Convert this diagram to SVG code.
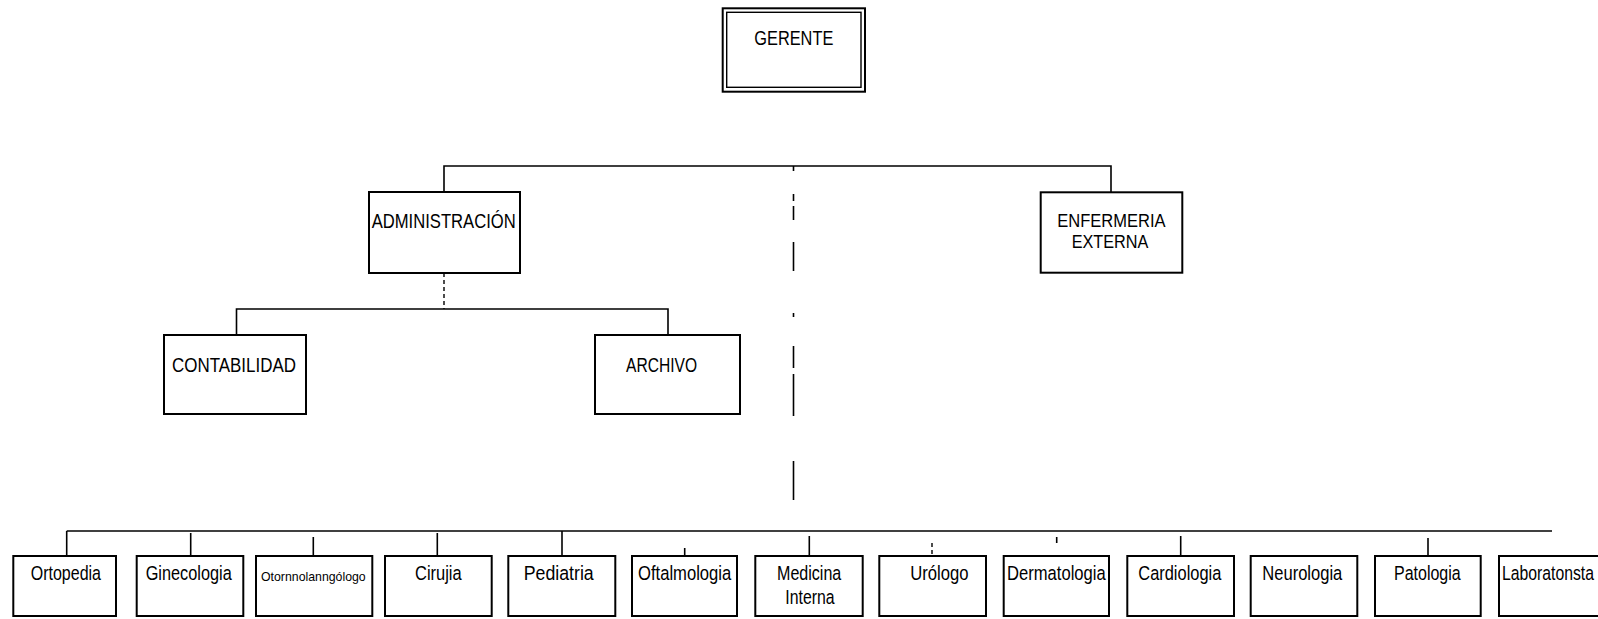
<svg xmlns="http://www.w3.org/2000/svg" width="1598" height="619" viewBox="0 0 1598 619">
<style>
.box{fill:#fff;stroke:#000;stroke-width:2}
.ln{fill:none;stroke:#000;stroke-width:1.6}
.dash{fill:none;stroke:#000;stroke-width:1.4;stroke-dasharray:4 3}
text{font-family:"Liberation Sans Narrow","Liberation Sans",Arial,sans-serif;fill:#000}
.t20{font-size:21px}
.t19{font-size:20.5px}
.t18{font-size:19px}
.t13{font-size:13.5px}
</style>
<rect width="1598" height="619" fill="#fff"/>
<g id="connectors">
<polyline class="ln" points="444,192 444,166 1111,166 1111,192"/>
<line class="dash" x1="444" y1="273" x2="444" y2="309"/>
<polyline class="ln" points="236.5,335 236.5,309 668,309 668,335"/>
<g class="ln">
<line x1="793.5" y1="166" x2="793.5" y2="171"/>
<line x1="793.5" y1="194" x2="793.5" y2="201"/>
<line x1="793.5" y1="206" x2="793.5" y2="220"/>
<line x1="793.5" y1="242" x2="793.5" y2="271"/>
<line x1="793.5" y1="313" x2="793.5" y2="317"/>
<line x1="793.5" y1="346" x2="793.5" y2="368"/>
<line x1="793.5" y1="374" x2="793.5" y2="416"/>
<line x1="793.5" y1="461" x2="793.5" y2="500"/>
</g>
<line class="ln" x1="66.7" y1="531" x2="1552" y2="531"/>
<g class="ln">
<line x1="66.7" y1="531" x2="66.7" y2="556"/>
<line x1="190.7" y1="533" x2="190.7" y2="556"/>
<line x1="313.3" y1="537" x2="313.3" y2="556"/>
<line x1="437.3" y1="533" x2="437.3" y2="556"/>
<line x1="562" y1="531" x2="562" y2="556"/>
<line x1="684.7" y1="548" x2="684.7" y2="556"/>
<line x1="809.3" y1="536" x2="809.3" y2="556"/>
<line x1="1056.7" y1="537" x2="1056.7" y2="543"/>
<line x1="1180.7" y1="536" x2="1180.7" y2="556"/>
<line x1="1428" y1="538" x2="1428" y2="557"/>
</g>
<line class="dash" x1="932" y1="543" x2="932" y2="556"/>
</g>
<g id="gerente">
<rect x="722.7" y="8.3" width="142.3" height="83.4" fill="#fff" stroke="#000" stroke-width="2"/>
<rect x="726.7" y="12.3" width="134.3" height="75" fill="none" stroke="#000" stroke-width="1.4"/>
<text class="t20" x="754.3" y="45" textLength="79" lengthAdjust="spacingAndGlyphs">GERENTE</text>
</g>
<g id="administracion">
<rect class="box" x="369" y="192" width="151" height="81"/>
<text class="t20" x="371.7" y="228" textLength="144" lengthAdjust="spacingAndGlyphs">ADMINISTRACIÓN</text>
</g>
<g id="enfermeria">
<rect class="box" x="1040.7" y="192.3" width="141.6" height="80.4"/>
<text class="t18" x="1057.3" y="227" textLength="108.3" lengthAdjust="spacingAndGlyphs">ENFERMERIA</text>
<text class="t18" x="1071.7" y="248" textLength="76.7" lengthAdjust="spacingAndGlyphs">EXTERNA</text>
</g>
<g id="contabilidad">
<rect class="box" x="164" y="335" width="142" height="79"/>
<text class="t19" x="172" y="372" textLength="124" lengthAdjust="spacingAndGlyphs">CONTABILIDAD</text>
</g>
<g id="archivo">
<rect class="box" x="595" y="335" width="145" height="79"/>
<text class="t19" x="626" y="372" textLength="71" lengthAdjust="spacingAndGlyphs">ARCHIVO</text>
</g>
<g id="ortopedia">
<rect class="box" x="13.3" y="556" width="102.7" height="60"/>
<text class="t19" x="30.7" y="580" textLength="70.3" lengthAdjust="spacingAndGlyphs">Ortopedia</text>
</g>
<g id="ginecologia">
<rect class="box" x="136.7" y="556" width="106.6" height="60"/>
<text class="t19" x="145.7" y="580" textLength="86" lengthAdjust="spacingAndGlyphs">Ginecologia</text>
</g>
<g id="otorrinolaringologo">
<rect class="box" x="256" y="556" width="116.3" height="60"/>
<text class="t13" x="261" y="581" textLength="104.7" lengthAdjust="spacingAndGlyphs">Otornnolanngólogo</text>
</g>
<g id="cirujia">
<rect class="box" x="385" y="556" width="106.7" height="60"/>
<text class="t19" x="415" y="580" textLength="46.7" lengthAdjust="spacingAndGlyphs">Cirujia</text>
</g>
<g id="pediatria">
<rect class="box" x="508.3" y="556" width="107" height="60"/>
<text class="t19" x="523.7" y="580" textLength="70" lengthAdjust="spacingAndGlyphs">Pediatria</text>
</g>
<g id="oftalmologia">
<rect class="box" x="632" y="556" width="105" height="60"/>
<text class="t19" x="638" y="580" textLength="93.3" lengthAdjust="spacingAndGlyphs">Oftalmologia</text>
</g>
<g id="medicina-interna">
<rect class="box" x="755.3" y="556" width="107.4" height="60"/>
<text class="t19" x="777" y="580" textLength="64.3" lengthAdjust="spacingAndGlyphs">Medicina</text>
<text class="t19" x="785.3" y="604" textLength="49.3" lengthAdjust="spacingAndGlyphs">Interna</text>
</g>
<g id="urologo">
<rect class="box" x="879.3" y="556" width="106.7" height="60"/>
<text class="t19" x="910.3" y="580" textLength="58.3" lengthAdjust="spacingAndGlyphs">Urólogo</text>
</g>
<g id="dermatologia">
<rect class="box" x="1003.7" y="556" width="105.3" height="60"/>
<text class="t19" x="1007" y="580" textLength="98.7" lengthAdjust="spacingAndGlyphs">Dermatologia</text>
</g>
<g id="cardiologia">
<rect class="box" x="1127.3" y="556" width="106.7" height="60"/>
<text class="t19" x="1138.3" y="580" textLength="83" lengthAdjust="spacingAndGlyphs">Cardiologia</text>
</g>
<g id="neurologia">
<rect class="box" x="1250.7" y="556" width="106.6" height="60"/>
<text class="t19" x="1262.3" y="580" textLength="80" lengthAdjust="spacingAndGlyphs">Neurologia</text>
</g>
<g id="patologia">
<rect class="box" x="1375" y="556" width="105.7" height="60"/>
<text class="t19" x="1394" y="580" textLength="66.7" lengthAdjust="spacingAndGlyphs">Patologia</text>
</g>
<g id="laboratorista">
<rect class="box" x="1499" y="556" width="110" height="60"/>
<text class="t19" x="1502" y="580" textLength="92" lengthAdjust="spacingAndGlyphs">Laboratonsta</text>
</g>
</svg>
